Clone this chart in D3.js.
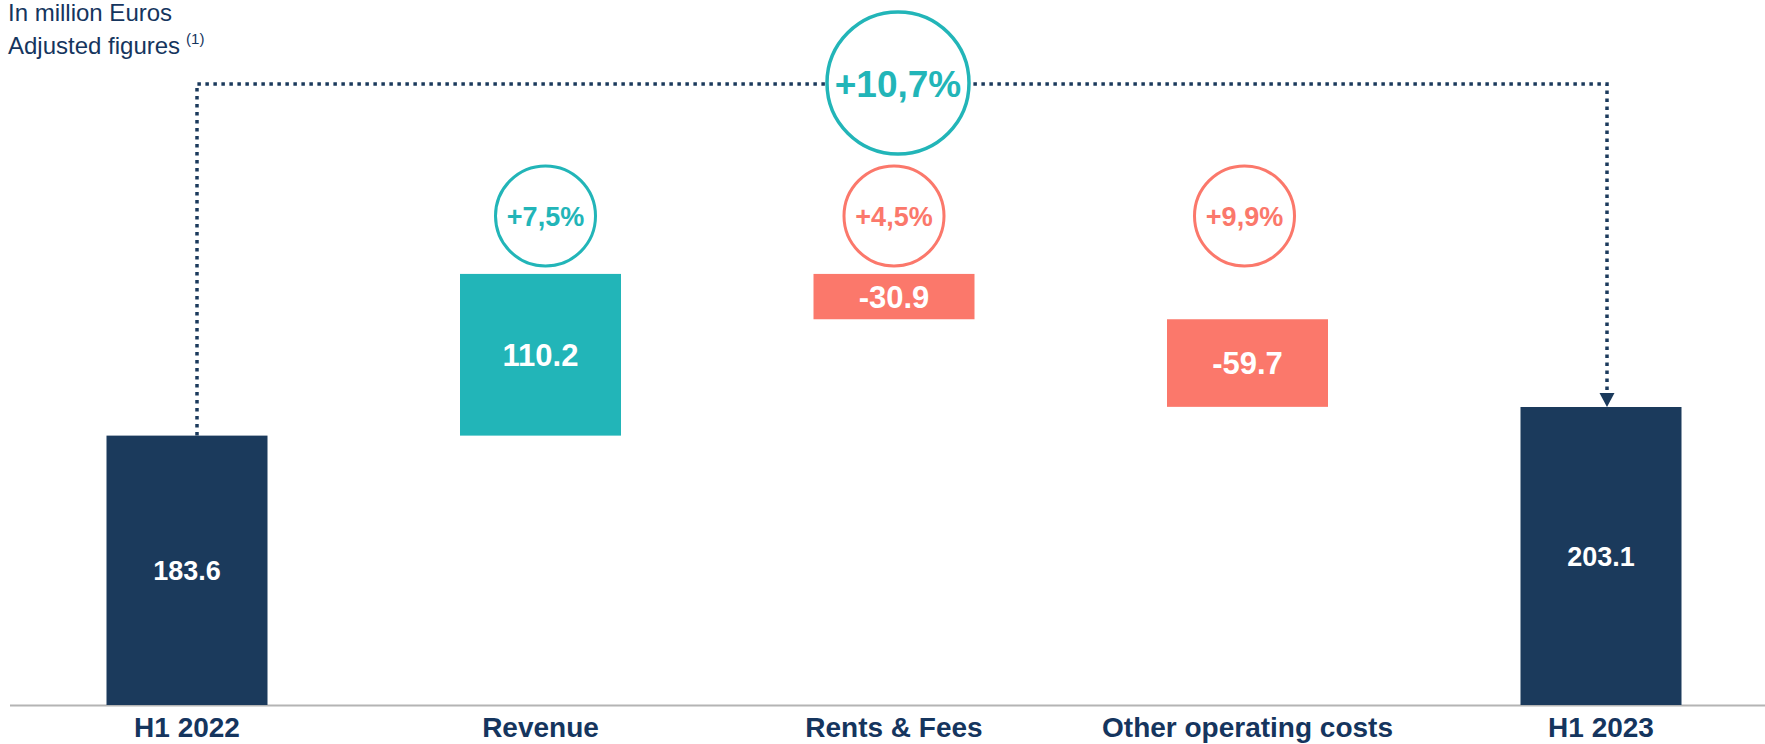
<!DOCTYPE html>
<html>
<head>
<meta charset="utf-8">
<script src="https://cdn.jsdelivr.net/npm/d3@7"></script>
<style>
  html, body { margin: 0; padding: 0; background: #fff; }
  svg { display: block; font-family: "Liberation Sans", Arial, sans-serif; }
</style>
</head>
<body>
<svg id="chart" width="1765" height="744"></svg>
<script>
// ---- data ----
const categories = ["H1 2022", "Revenue", "Rents & Fees", "Other operating costs", "H1 2023"];
const values = [183.6, 110.2, -30.9, -59.7, 203.1];
const kinds = ["total", "delta", "delta", "delta", "total"];
const valueLabels = ["183.6", "110.2", "-30.9", "-59.7", "203.1"];
const growthLabels = [null, "+7,5%", "+4,5%", "+9,9%", null];
const totalGrowth = "+10,7%";
const unitNote = "In million Euros";
const adjNote = "Adjusted figures";
const adjSup = "(1)";

// ---- layout / style ----
const W = 1765, H = 744;
const baseY = 705;
const barWidth = 161;
const circleShift = [0, 5, 0, -3, 0];
const C = {
  navy: "#1b3a5c",
  text: "#15355e",
  teal: "#22b5b8",
  salmon: "#fb786b",
  axis: "#b4b4b4"
};

const svg = d3.select("#chart");

const x = d3.scalePoint().domain(categories).range([187, 1601]);
const y = d3.scaleLinear().domain([0, 203.1]).range([baseY, 407]);

// waterfall cumulative
let run = 0;
const bars = categories.map((c, i) => {
  let lo, hi;
  if (kinds[i] === "total") { lo = 0; hi = values[i]; run = values[i]; }
  else { const s = run; run += values[i]; lo = Math.min(s, run); hi = Math.max(s, run); }
  const color = kinds[i] === "total" ? C.navy : (values[i] >= 0 ? C.teal : C.salmon);
  return { c, i, lo, hi, color, cx: x(c), total: kinds[i] === "total" };
});

// axis line
svg.append("line")
  .attr("x1", 10).attr("x2", W).attr("y1", baseY + 0.5).attr("y2", baseY + 0.5)
  .attr("stroke", C.axis).attr("stroke-width", 2);

// bars
svg.selectAll("rect.bar").data(bars).join("rect")
  .attr("class", "bar")
  .attr("x", d => d.cx - barWidth / 2)
  .attr("width", barWidth)
  .attr("y", d => y(d.hi))
  .attr("height", d => y(d.lo) - y(d.hi))
  .attr("fill", d => d.color);

// value labels
svg.selectAll("text.val").data(bars).join("text")
  .attr("class", "val")
  .attr("x", d => d.cx)
  .attr("y", d => (y(d.hi) + y(d.lo)) / 2 + (d.total ? 27 : 31) * 0.36)
  .attr("text-anchor", "middle")
  .attr("font-size", d => d.total ? 27 : 31)
  .attr("font-weight", "bold")
  .attr("fill", "#fff")
  .text(d => valueLabels[d.i]);

// category labels
svg.selectAll("text.cat").data(categories).join("text")
  .attr("class", "cat")
  .attr("x", d => x(d))
  .attr("y", 737)
  .attr("text-anchor", "middle")
  .attr("font-size", 28)
  .attr("font-weight", "bold")
  .attr("fill", C.text)
  .text(d => d);

// growth circles
const circ = bars.filter(d => growthLabels[d.i]);
const circleY = 216;
svg.selectAll("circle.g").data(circ).join("circle")
  .attr("class", "g")
  .attr("cx", d => d.cx + circleShift[d.i])
  .attr("cy", circleY)
  .attr("r", 50)
  .attr("fill", "#fff")
  .attr("stroke", d => d.color)
  .attr("stroke-width", 3);
svg.selectAll("text.g").data(circ).join("text")
  .attr("class", "g")
  .attr("x", d => d.cx + circleShift[d.i])
  .attr("y", circleY + 10)
  .attr("text-anchor", "middle")
  .attr("font-size", 27)
  .attr("font-weight", "bold")
  .attr("fill", d => d.color)
  .text(d => growthLabels[d.i]);

// bracket connector
const first = bars[0], last = bars[bars.length - 1];
const lx = first.cx + 10, rx = last.cx + 6;
const lineY = 84;
const arrowH = 14;
svg.append("path")
  .attr("d", `M${lx},${y(first.hi)} V${lineY} H${rx} V${y(last.hi) - arrowH}`)
  .attr("fill", "none")
  .attr("stroke", C.navy)
  .attr("stroke-width", 3.5)
  .attr("stroke-dasharray", "3.5,4.5");
svg.append("path")
  .attr("d", `M${rx - 7.5},${y(last.hi) - arrowH} L${rx + 7.5},${y(last.hi) - arrowH} L${rx},${y(last.hi)} Z`)
  .attr("fill", C.navy);

// big circle
const bigX = (lx + rx) / 2 - 4;
svg.append("circle")
  .attr("cx", bigX).attr("cy", 83).attr("r", 71)
  .attr("fill", "#fff").attr("stroke", C.teal).attr("stroke-width", 3.5);
svg.append("text")
  .attr("x", bigX).attr("y", 97)
  .attr("text-anchor", "middle")
  .attr("font-size", 37).attr("font-weight", "bold")
  .attr("fill", C.teal)
  .text(totalGrowth);

// notes
svg.append("text")
  .attr("x", 8).attr("y", 21)
  .attr("font-size", 24).attr("fill", C.text)
  .text(unitNote);
const t2 = svg.append("text")
  .attr("x", 8).attr("y", 54)
  .attr("font-size", 24).attr("fill", C.text);
t2.append("tspan").text(adjNote);
t2.append("tspan").attr("dx", 6).attr("dy", -10).attr("font-size", 15).text(adjSup);
</script>
</body>
</html>
